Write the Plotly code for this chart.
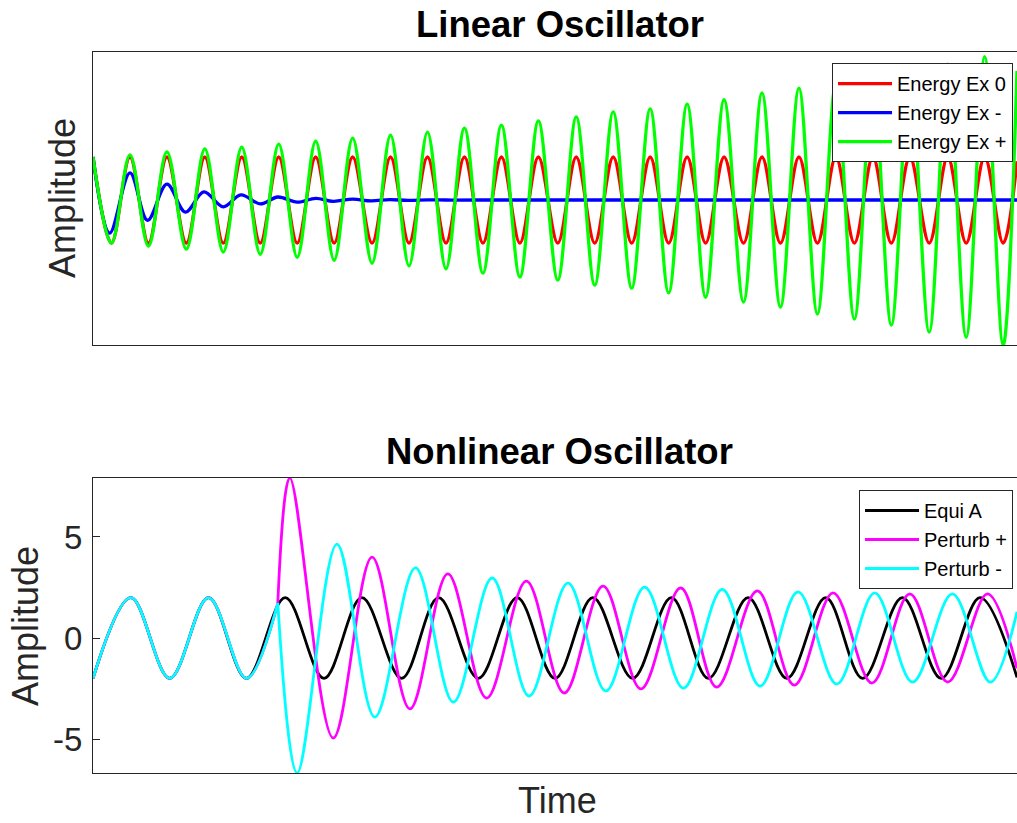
import plotly.graph_objects as go

# ---------------- Linear oscillator (extrema) ----------------
t_lin = [0.0, 2.0, 4.0, 6.0, 8.0, 10.1, 12.1, 14.1, 16.1, 18.1, 20.1, 22.1, 24.1, 26.1,
         28.1, 30.2, 32.2, 34.2, 36.2, 38.2, 40.2, 42.2, 44.2, 46.2, 48.2, 50.3, 52.3,
         54.3, 56.3, 58.3, 60.3, 62.3, 64.3, 66.3, 68.3, 70.4, 72.4, 74.4, 76.4, 78.4,
         80.4, 82.4, 84.4, 86.4, 88.4, 90.5, 92.5, 94.5, 96.5, 98.5, 100.0]
energy_ex0 = [1, -1, 1, -1, 1, -1, 1, -1, 1, -1, 1, -1, 1, -1, 1, -1, 1, -1, 1, -1,
              1, -1, 1, -1, 1, -1, 1, -1, 1, -1, 1, -1, 1, -1, 1, -1, 1, -1, 1, -1,
              1, -1, 1, -1, 1, -1, 1, -1, 1, -1, 0.9]
energy_ex_plus = [1.00, -1.00, 1.05, -1.07, 1.12, -1.14, 1.19, -1.21, 1.23, -1.26,
                  1.30, -1.33, 1.37, -1.40, 1.44, -1.47, 1.51, -1.53, 1.58, -1.60,
                  1.67, -1.70, 1.74, -1.79, 1.84, -1.86, 1.93, -1.98, 2.05, -2.05,
                  2.12, -2.16, 2.23, -2.26, 2.33, -2.37, 2.49, -2.49, 2.60, -2.65,
                  2.72, -2.77, 2.86, -2.91, 3.00, -3.07, 3.16, -3.19, 3.33, -3.37, 3.0]
t_damp = [0.0, 1.8, 4.0, 5.9, 8.0, 10.0, 12.0, 14.1, 16.0, 18.1, 20.0, 22.1, 24.1,
          26.0, 28.1, 30.1, 32.1, 34.1, 36.2, 38.2, 42.0, 100.0]
energy_ex_minus = [1.0, -0.77, 0.63, -0.47, 0.37, -0.28, 0.19, -0.16, 0.12, -0.09,
                   0.07, -0.05, 0.04, -0.03, 0.02, -0.02, 0.01, -0.01, 0.005, 0.0, 0.0, 0.0]

# ---------------- Nonlinear oscillator ----------------
t_equi = [0.0, 4.1, 8.3, 12.5, 16.6, 20.8, 25.0, 29.1, 33.4, 37.4, 41.7, 45.9, 50.0,
          54.1, 58.4, 62.6, 66.6, 70.9, 75.1, 79.3, 83.3, 87.6, 91.8, 96.0, 100.0]
equi_a = [-2, 2, -2, 2, -2, 2, -2, 2, -2, 2, -2, 2, -2, 2, -2, 2, -2, 2, -2, 2,
          -2, 2, -2, 2, -1.95]
# shared trajectory before the kick
t_before = [0.0, 4.1, 8.3, 12.5, 16.6, 20.0]
before_kick = [-2, 2, -2, 2, -2, 1.73]
t_plus = [20.0, 21.3, 26.0, 30.2, 34.3, 38.4, 42.6, 46.9, 51.0, 55.2, 59.3, 63.6,
          67.5, 71.9, 75.9, 80.1, 84.3, 88.4, 92.5, 96.8, 100.0]
perturb_plus = [1.73, 7.92, -4.95, 4.0, -3.51, 3.17, -2.97, 2.82, -2.72, 2.57, -2.52,
                2.48, -2.43, 2.33, -2.33, 2.23, -2.23, 2.18, -2.18, 2.18, -1.5]
t_minus = [20.0, 22.1, 26.4, 30.5, 34.9, 39.0, 43.2, 47.2, 51.4, 55.5, 59.7, 63.9,
           68.1, 72.2, 76.3, 80.5, 84.6, 88.7, 93.0, 97.1, 100.0]
perturb_minus = [1.73, -6.68, 4.65, -3.91, 3.47, -3.17, 2.97, -2.87, 2.72, -2.62, 2.52,
                 -2.48, 2.41, -2.38, 2.28, -2.28, 2.23, -2.18, 2.18, -2.18, 1.3]

FONT = "Liberation Sans, Arial, Helvetica, sans-serif"
AX = "#262626"

fig = go.Figure()

def add(x, y, name, color, width, xa, ya, legend, show=True, group=None):
    fig.add_trace(go.Scatter(
        x=x, y=y, name=name, mode="lines",
        line=dict(color=color, width=width, shape="spline", smoothing=1.0),
        xaxis=xa, yaxis=ya, legend=legend, showlegend=show,
        legendgroup=group or name, hoverinfo="skip"))

add(t_lin, energy_ex0, "Energy Ex 0", "#ff0000", 3.3, "x", "y", "legend")
add(t_damp, energy_ex_minus, "Energy Ex -", "#0000ff", 3.3, "x", "y", "legend")
add(t_lin, energy_ex_plus, "Energy Ex +", "#00ff00", 3.3, "x", "y", "legend")

add(t_equi, equi_a, "Equi A", "#000000", 2.8, "x2", "y2", "legend2")
add(t_before, before_kick, "Perturb +", "#ff00ff", 2.8, "x2", "y2", "legend2", show=False)
add(t_plus, perturb_plus, "Perturb +", "#ff00ff", 2.8, "x2", "y2", "legend2")
add(t_before, before_kick, "Perturb -", "#00ffff", 2.8, "x2", "y2", "legend2", show=False)
add(t_minus, perturb_minus, "Perturb -", "#00ffff", 2.8, "x2", "y2", "legend2")

xcommon = dict(range=[0, 100], showticklabels=False, ticks="", showgrid=False,
               zeroline=False, showline=True, mirror=True, linecolor=AX, linewidth=1)
legcommon = dict(font=dict(family=FONT, size=20, color="#000000"), bgcolor="white",
                 bordercolor=AX, borderwidth=1, xanchor="right", yanchor="top",
                 itemwidth=54, tracegroupgap=0)

fig.update_layout(
    width=1017, height=823,
    margin=dict(l=93, r=0, t=52, b=50),
    paper_bgcolor="white", plot_bgcolor="white",
    font=dict(family=FONT, color=AX),
    xaxis=dict(domain=[0, 1], anchor="y", **xcommon),
    yaxis=dict(domain=[0.5936, 1], anchor="x", range=[-3.37, 3.44], showticklabels=False,
               ticks="", showgrid=False, zeroline=False, showline=True, mirror=False,
               linecolor=AX, linewidth=1),
    xaxis2=dict(domain=[0, 1], anchor="y2", **xcommon),
    yaxis2=dict(domain=[0, 0.4092], anchor="x2", range=[-6.68, 7.92],
                tickvals=[-5, 0, 5], ticktext=["-5", "0", "5"], ticks="inside",
                ticklen=7, tickcolor=AX, tickwidth=1, ticklabelstandoff=3,
                tickfont=dict(family=FONT, size=33, color=AX),
                showgrid=False, zeroline=False, showline=True, mirror=False,
                linecolor=AX, linewidth=1),
    legend=dict(x=0.9957, y=0.9847, **legcommon),
    legend2=dict(x=0.9957, y=0.3925, **legcommon),
    annotations=[
        dict(text="<b>Linear Oscillator</b>", x=0.505, y=1.0377, xref="paper", yref="paper",
             xanchor="center", yanchor="middle", showarrow=False,
             font=dict(family=FONT, size=36.5, color="#000000")),
        dict(text="<b>Nonlinear Oscillator</b>", x=0.505, y=0.4455, xref="paper", yref="paper",
             xanchor="center", yanchor="middle", showarrow=False,
             font=dict(family=FONT, size=36.5, color="#000000")),
        dict(text="Amplitude", x=-0.033, y=0.7968, xref="paper", yref="paper",
             xanchor="center", yanchor="middle", textangle=-90, showarrow=False,
             font=dict(family=FONT, size=36, color=AX)),
        dict(text="Amplitude", x=-0.0731, y=0.2046, xref="paper", yref="paper",
             xanchor="center", yanchor="middle", textangle=-90, showarrow=False,
             font=dict(family=FONT, size=36, color=AX)),
        dict(text="Time", x=0.503, y=-0.0693, xref="paper", yref="paper",
             xanchor="center", yanchor="bottom", showarrow=False,
             font=dict(family=FONT, size=36, color=AX)),
    ],
)

fig.write_html("out.html", config={"displayModeBar": False},
               post_script="document.body.style.margin='0';document.body.style.padding='0';")
